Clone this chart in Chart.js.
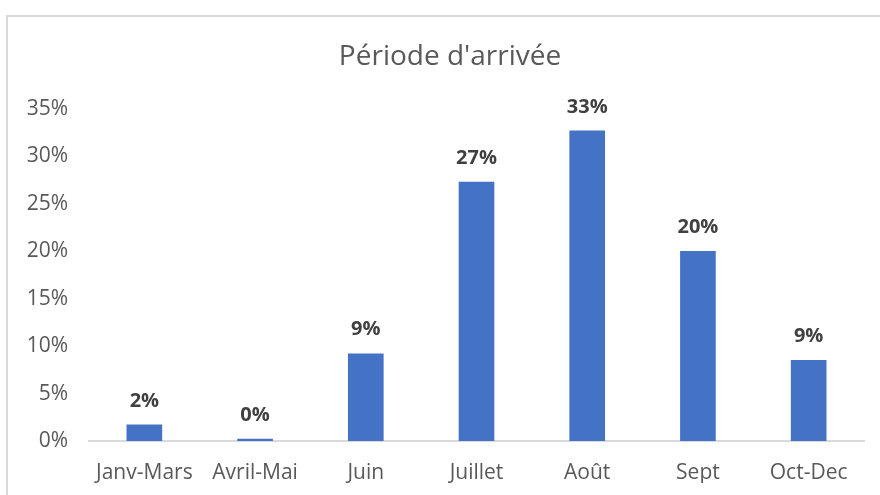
<!DOCTYPE html>
<html>
<head>
<meta charset="utf-8">
<script src="https://cdn.jsdelivr.net/npm/chart.js@4.4.1/dist/chart.umd.min.js"></script>
<style>
  html, body { margin: 0; padding: 0; background: #fff; overflow: hidden; width: 880px; height: 495px; }
  #frame { position: absolute; left: 6px; top: 15px; width: 900px; height: 500px;
           border-top: 2px solid #d9d9d9; border-left: 2px solid #d9d9d9; }
  #wrap { position: absolute; left: 8px; top: 17px; width: 884px; height: 478px; }
</style>
</head>
<body>
<div id="frame"></div>
<div id="wrap"><canvas id="c" width="884" height="478"></canvas></div>
<script>
const categories = ["Janv-Mars", "Avril-Mai", "Juin", "Juillet", "Août", "Sept", "Oct-Dec"];
const values = [1.7, 0.2, 9.2, 27.3, 32.7, 20.0, 8.5];
const yTicks = [0, 5, 10, 15, 20, 25, 30, 35];
const chartTitle = "Période d'arrivée";

const FONT = "'Open Sans', sans-serif";

const valueLabels = {
  id: 'valueLabels',
  afterDatasetsDraw(chart) {
    const ctx = chart.ctx;
    const meta = chart.getDatasetMeta(0);
    ctx.save();
    ctx.font = "bold 20px " + FONT;
    ctx.fillStyle = "#404040";
    ctx.textAlign = "center";
    ctx.textBaseline = "middle";
    meta.data.forEach((bar, i) => {
      ctx.fillText(Math.round(values[i]) + "%", bar.x, bar.y - 24);
    });
    ctx.restore();
  }
};

new Chart(document.getElementById('c'), {
  type: 'bar',
  data: {
    labels: categories,
    datasets: [{
      data: values,
      backgroundColor: '#4472c4',
      borderWidth: 0,
      barThickness: 35
    }]
  },
  options: {
    responsive: false,
    animation: false,
    layout: { padding: { left: 0, right: 0, top: 0, bottom: 12 } },
    plugins: {
      legend: { display: false },
      tooltip: { enabled: false },
      title: {
        display: true,
        text: chartTitle,
        color: '#595959',
        font: { family: FONT, size: 28, weight: 'normal', lineHeight: 1.2 },
        padding: { top: 23.2, bottom: 35.2 }
      }
    },
    scales: {
      x: {
        afterFit(scale) { scale.height = 42; },
        grid: { display: false, drawTicks: false },
        border: { display: true, color: '#d9d9d9', width: 2 },
        ticks: { color: '#595959', font: { family: FONT, size: 21, lineHeight: 1.2 }, padding: 19, maxRotation: 0 }
      },
      y: {
        min: 0, max: 35,
        afterBuildTicks(scale) { scale.ticks = yTicks.map(v => ({ value: v })); },
        afterFit(scale) { scale.width = 81; },
        grid: { display: false, drawTicks: false },
        border: { display: false },
        ticks: {
          color: '#595959',
          font: { family: FONT, size: 21, lineHeight: 1.2 },
          padding: 21,
          callback: v => v + '%'
        }
      },
      yRight: {
        position: 'right',
        min: 0, max: 35,
        afterFit(scale) { scale.width = 28; },
        grid: { display: false, drawTicks: false },
        border: { display: false },
        ticks: { display: false }
      }
    }
  },
  plugins: [valueLabels]
});
</script>
</body>
</html>
